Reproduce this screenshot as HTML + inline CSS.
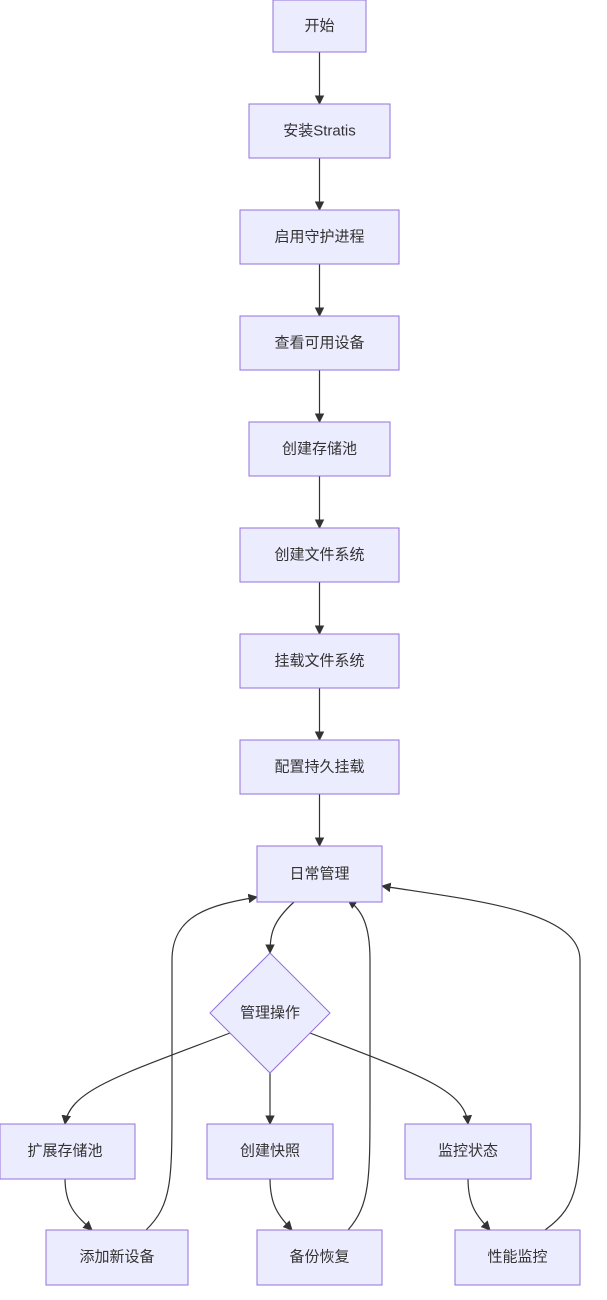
<!DOCTYPE html>
<html><head><meta charset="utf-8"><style>
body{margin:0;background:#fff;}
svg{display:block}
text{font-family:"Liberation Sans","Noto Sans CJK SC",sans-serif;font-size:15px;fill:#333;text-anchor:middle;dominant-baseline:central}
.n{fill:#ECECFF;stroke:#9370DB;stroke-width:1}
.e{fill:none;stroke:#333;stroke-width:1.2}
</style></head><body>
<svg width="607" height="1300" viewBox="0 0 607 1300">
<defs><marker id="a" viewBox="0 0 10 10" refX="9" refY="5" markerWidth="8" markerHeight="8" orient="auto"><path d="M0,0L10,5L0,10z" fill="#333"/></marker></defs>
<g class="e" marker-end="url(#a)">
<path d="M319.5,52V104"/>
<path d="M319.5,158V210"/>
<path d="M319.5,264V316"/>
<path d="M319.5,370V422"/>
<path d="M319.5,476V528"/>
<path d="M319.5,582V634"/>
<path d="M319.5,688V740"/>
<path d="M319.5,794V846"/>
<path d="M294,902C272,922 270,935 270,953"/>
<path d="M230,1033C120,1075 70,1090 65,1124"/>
<path d="M270,1073V1124"/>
<path d="M310,1033C420,1075 465,1090 468,1124"/>
<path d="M65,1178C65,1205 75,1215 92,1230"/>
<path d="M270,1178C270,1205 278,1215 292,1230"/>
<path d="M468,1178C468,1205 476,1215 490,1230"/>
<path d="M146,1230C172,1205 172,1180 172,1100V960C172,915 210,905 257,897"/>
<path d="M348,1230C370,1205 370,1180 370,1100V960C370,925 362,910 348,900"/>
<path d="M545,1230C580,1205 580,1180 580,1100V960C580,910 470,900 382,886"/>
</g>
<rect class="n" x="273" y="0" width="93" height="52"/><text x="319.5" y="26">开始</text>
<rect class="n" x="249" y="104" width="141" height="54"/><text x="319.5" y="131">安装Stratis</text>
<rect class="n" x="240" y="210" width="159" height="54"/><text x="319.5" y="237">启用守护进程</text>
<rect class="n" x="240" y="316" width="159" height="54"/><text x="319.5" y="343">查看可用设备</text>
<rect class="n" x="249" y="422" width="141" height="54"/><text x="319.5" y="449">创建存储池</text>
<rect class="n" x="240" y="528" width="159" height="54"/><text x="319.5" y="555">创建文件系统</text>
<rect class="n" x="240" y="634" width="159" height="54"/><text x="319.5" y="661">挂载文件系统</text>
<rect class="n" x="240" y="740" width="159" height="54"/><text x="319.5" y="767">配置持久挂载</text>
<rect class="n" x="257" y="846" width="125" height="56"/><text x="319.5" y="874">日常管理</text>
<polygon class="n" points="270,953 330,1013 270,1073 210,1013"/><text x="270" y="1013">管理操作</text>
<rect class="n" x="0" y="1124" width="135" height="55"/><text x="65" y="1151">扩展存储池</text>
<rect class="n" x="207" y="1124" width="126" height="55"/><text x="270" y="1151">创建快照</text>
<rect class="n" x="405" y="1124" width="126" height="55"/><text x="468" y="1151">监控状态</text>
<rect class="n" x="46" y="1230" width="142" height="55"/><text x="117" y="1257">添加新设备</text>
<rect class="n" x="257" y="1230" width="125" height="55"/><text x="319.5" y="1257">备份恢复</text>
<rect class="n" x="455" y="1230" width="125" height="55"/><text x="517.5" y="1257">性能监控</text>
</svg>
</body></html>
